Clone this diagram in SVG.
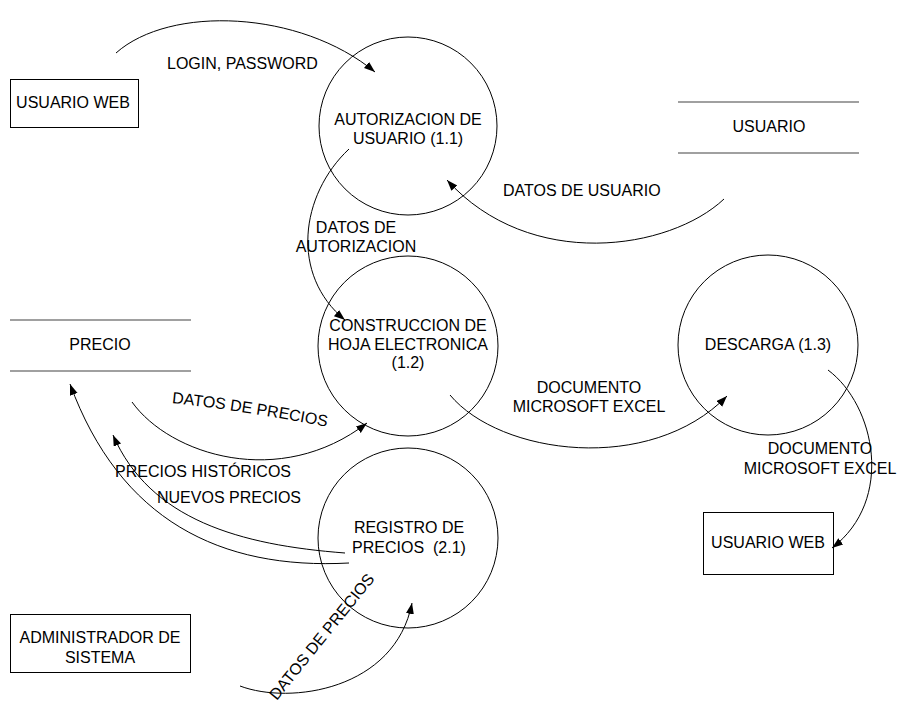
<svg xmlns="http://www.w3.org/2000/svg" width="900" height="706" viewBox="0 0 900 706">
  <style>
    text { font-family: "Liberation Sans", Arial, sans-serif; font-size: 16px; fill: #000; }
    .mid { text-anchor: middle; }
    .process { fill: none; stroke: #000; stroke-width: 1; }
    .entity { fill: none; stroke: #000; stroke-width: 1; }
    .store { stroke: #808080; stroke-width: 1.5; }
    .flow { fill: none; stroke: #000; stroke-width: 1; marker-end: url(#arrow); }
  </style>
  <defs>
    <marker id="arrow" markerUnits="userSpaceOnUse" markerWidth="12" markerHeight="10" refX="11" refY="4" orient="auto">
      <path d="M0,0 L11,4 L0,8 Z" fill="#000"/>
    </marker>
    <path id="precio-label-path" d="M171,403 Q240,410 328,427"/>
  </defs>

  <rect width="900" height="706" fill="#fff"/>

  <!-- external entities -->
  <g id="usuario-web-1">
    <rect class="entity" x="10.5" y="79.5" width="128" height="48"/>
    <text class="mid" x="73" y="108">USUARIO WEB</text>
  </g>
  <g id="usuario-web-2">
    <rect class="entity" x="703.5" y="512.5" width="130" height="62"/>
    <text class="mid" x="768" y="548">USUARIO WEB</text>
  </g>
  <g id="administrador">
    <rect class="entity" x="10.5" y="614.5" width="180" height="58"/>
    <text class="mid" x="100" y="643">ADMINISTRADOR DE</text>
    <text class="mid" x="100" y="663">SISTEMA</text>
  </g>

  <!-- data stores -->
  <g id="store-usuario">
    <line class="store" x1="678" y1="102" x2="859" y2="102"/>
    <line class="store" x1="678" y1="153" x2="859" y2="153"/>
    <text class="mid" x="769" y="132">USUARIO</text>
  </g>
  <g id="store-precio">
    <line class="store" x1="10" y1="320" x2="191" y2="320"/>
    <line class="store" x1="10" y1="371" x2="191" y2="371"/>
    <text class="mid" x="100" y="350">PRECIO</text>
  </g>

  <!-- processes -->
  <g id="proc-1-1">
    <circle class="process" cx="408" cy="126" r="89"/>
    <text class="mid" x="408" y="125">AUTORIZACION DE</text>
    <text class="mid" x="408" y="144">USUARIO (1.1)</text>
  </g>
  <g id="proc-1-2">
    <circle class="process" cx="408" cy="346" r="90"/>
    <text class="mid" x="408" y="331">CONSTRUCCION DE</text>
    <text class="mid" x="408" y="350">HOJA ELECTRONICA</text>
    <text class="mid" x="408" y="368">(1.2)</text>
  </g>
  <g id="proc-1-3">
    <circle class="process" cx="768" cy="345" r="90"/>
    <text class="mid" x="768" y="350">DESCARGA (1.3)</text>
  </g>
  <g id="proc-2-1">
    <circle class="process" cx="408" cy="538" r="90"/>
    <text class="mid" x="409" y="533">REGISTRO DE</text>
    <text class="mid" x="409" y="553" xml:space="preserve">PRECIOS  (2.1)</text>
  </g>

  <!-- data flows -->
  <g id="flows">
    <path class="flow" d="M116,53 C170,5 300,10 375,72"/>
    <path class="flow" d="M724,199 C670,250 530,272 447,180"/>
    <path class="flow" d="M349,149 C300,195 290,275 345,320"/>
    <path class="flow" d="M132,402 C170,455 280,490 367,423"/>
    <path class="flow" d="M450,395 C500,455 650,475 727,396"/>
    <path class="flow" d="M828,370 C875,405 895,500 832,548"/>
    <path class="flow" d="M349,563 C220,570 120,520 70,384"/>
    <path class="flow" d="M345,553 C240,545 150,520 113,435"/>
    <path class="flow" d="M240,686 C290,705 395,690 412,603"/>
  </g>

  <!-- flow labels -->
  <g id="labels">
    <text x="167" y="69">LOGIN, PASSWORD</text>
    <text x="503" y="196">DATOS DE USUARIO</text>
    <text class="mid" x="356" y="233">DATOS DE</text>
    <text class="mid" x="356" y="252">AUTORIZACION</text>
    <text class="mid"><textPath href="#precio-label-path" startOffset="50%">DATOS DE PRECIOS</textPath></text>
    <text class="mid" x="589" y="393">DOCUMENTO</text>
    <text class="mid" x="589" y="412">MICROSOFT EXCEL</text>
    <text class="mid" x="820" y="454">DOCUMENTO</text>
    <text class="mid" x="820" y="474">MICROSOFT EXCEL</text>
    <text x="115" y="477">PRECIOS HISTÓRICOS</text>
    <text x="157" y="503">NUEVOS PRECIOS</text>
    <text class="mid" transform="translate(326,640) rotate(-51)">DATOS DE PRECIOS</text>
  </g>
</svg>
